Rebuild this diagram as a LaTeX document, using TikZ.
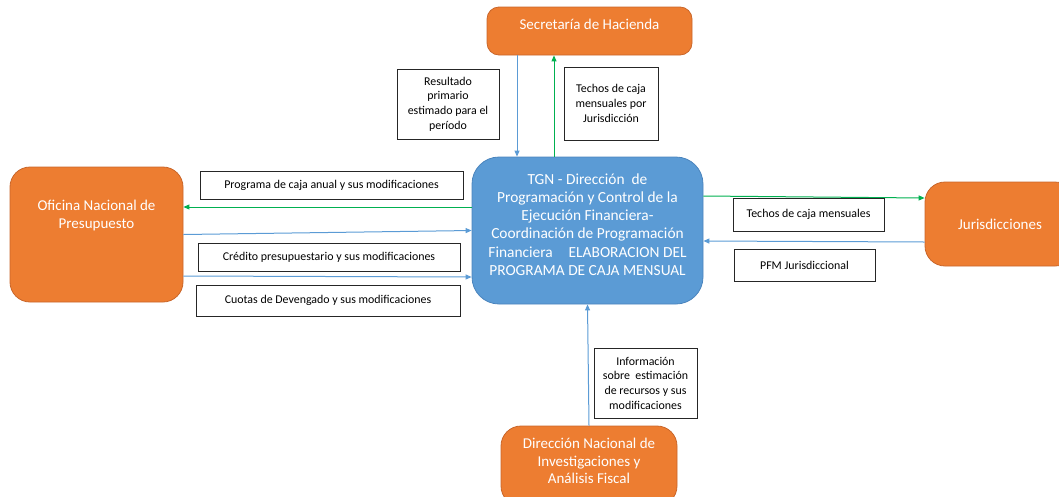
\documentclass[tikz,border=0pt]{standalone}
\usepackage{fontspec}
\setmainfont{Carlito}
\usepackage{tikz}
\usetikzlibrary{arrows.meta,positioning,calc}
\definecolor{OR}{HTML}{ED7D31}
\definecolor{ORd}{HTML}{C9662A}
\definecolor{BL}{HTML}{5B9BD5}
\definecolor{BLd}{HTML}{4A84BD}
\definecolor{GR}{HTML}{00B050}

\begin{document}
\begin{tikzpicture}[x=1pt, y=-1pt,
    orgbox/.style={draw=ORd, fill=OR, rounded corners=20pt, line width=0.8pt},
    boxtext/.style={text=white, align=center, inner sep=0pt,
        font=\fontsize{15}{17.7}\selectfont},
    tagbox/.style={draw=black!85, fill=white, line width=0.8pt, align=center,
        inner sep=0pt, font=\fontsize{11.9}{14.7}\selectfont},
    bluearr/.style={draw=BL, line width=1pt, -{Triangle[length=6pt,width=5pt]}},
    grnarr/.style={draw=GR, line width=1pt, -{Triangle[length=6pt,width=5pt]}}]
    \useasboundingbox (0,0) rectangle (1059,496);

    % organismos
    \node[orgbox, minimum width=205pt, minimum height=48pt, rounded corners=12pt,
          label={[boxtext, yshift=7pt]center:Secretaría de Hacienda}] (sec) at (589.5,31) {};
    \node[orgbox, minimum width=173pt, minimum height=135pt,
          label={[boxtext, yshift=19pt]center:Oficina Nacional de\\Presupuesto}] (ofi) at (96.5,234.5) {};
    \node[orgbox, minimum width=150pt, minimum height=84pt,
          label={[boxtext]center:Jurisdicciones}] (jur) at (1000,224) {};
    \node[orgbox, minimum width=176pt, minimum height=80pt,
          label={[boxtext, yshift=5pt]center:Dirección Nacional de\\Investigaciones y\\Análisis Fiscal}] (dir) at (589,466) {};
    \node[draw=BLd, fill=BL, rounded corners=27pt, line width=0.8pt,
          minimum width=231pt, minimum height=147pt,
          label={[boxtext, font=\fontsize{15.4}{18.2}\selectfont, yshift=6pt]center:TGN - Dirección\ \ de\\
            Programación y Control de la\\Ejecución Financiera-\\Coordinación de Programación\\
            Financiera\hspace{16pt}ELABORACION DEL\\PROGRAMA DE CAJA MENSUAL}] (tgn) at (587.5,230.5) {};

    % flujos
    \draw[bluearr] ([xshift=-72.5pt]sec.south) -- ([xshift=-70.5pt]tgn.north);
    \draw[grnarr] ([xshift=-33.5pt]tgn.north) -- ([xshift=-35.5pt]sec.south);
    \draw[grnarr] ([yshift=23.5pt]tgn.west) -- ([yshift=27.5pt]ofi.east);
    \draw[bluearr] (ofi.east) -- (tgn.west);
    \draw[bluearr] ([yshift=-41.5pt]ofi.east) -- ([yshift=-46.5pt]tgn.west);
    \draw[grnarr] ([yshift=34.5pt]tgn.east) -- ([yshift=26pt]jur.west);
    \draw[bluearr] ([yshift=-18pt]jur.west) -- ([yshift=-10.5pt]tgn.east);
    \draw[bluearr] (dir.north) -- (tgn.south);

    % rotulos
    \node[tagbox, minimum width=102pt, minimum height=70pt] (res) at (448,104)
        {Resultado\\primario\\estimado para el\\período};
    \node[tagbox, minimum width=94pt, minimum height=73pt] (tjur) at (611,103.5)
        {Techos de caja\\mensuales por\\Jurisdicción};
    \node[tagbox, minimum width=263pt, minimum height=28pt] (prog) at (331.5,185)
        {Programa de caja anual y sus modificaciones};
    \node[tagbox, minimum width=262pt, minimum height=28pt] (cred) at (329,257)
        {Crédito presupuestario y sus modificaciones};
    \node[tagbox, minimum width=264pt, minimum height=31pt] (cuot) at (328,300.5)
        {Cuotas de Devengado y sus modificaciones};
    \node[tagbox, minimum width=151pt, minimum height=33pt] (tmen) at (808.5,214.5)
        {Techos de caja mensuales};
    \node[tagbox, minimum width=141pt, minimum height=32pt] (pfm) at (804.5,265)
        {PFM Jurisdiccional};
    \node[tagbox, minimum width=103pt, minimum height=70pt] (info) at (645.5,383)
        {Información\\sobre\ \ estimación\\de recursos y sus\\modificaciones};
\end{tikzpicture}
\end{document}
